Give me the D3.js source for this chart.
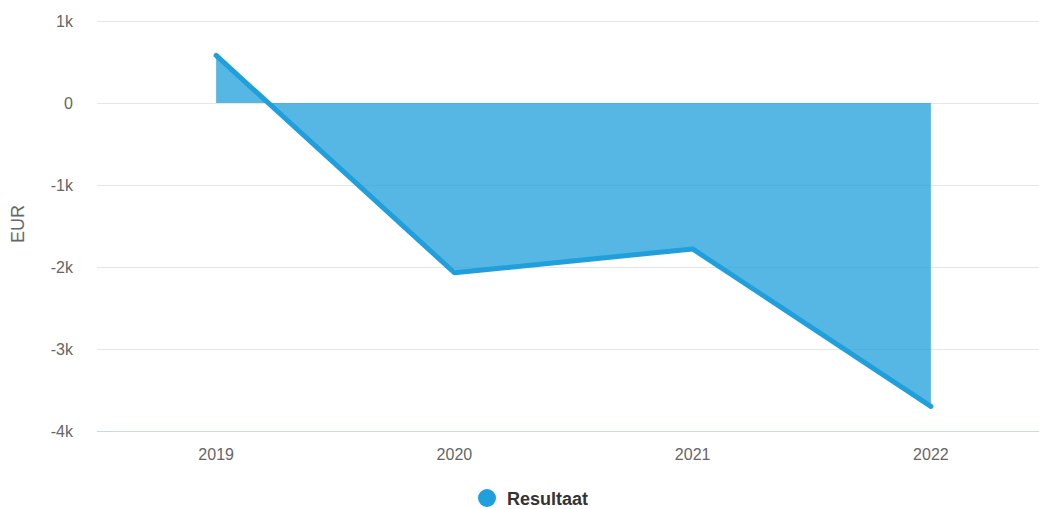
<!DOCTYPE html>
<html>
<head>
<meta charset="utf-8">
<script src="https://cdn.jsdelivr.net/npm/d3@7"></script>
<style>
  body { margin: 0; background: #fff; }
  text { font-family: "Liberation Sans", Arial, Helvetica, sans-serif; }
</style>
</head>
<body>
<svg id="chart"></svg>
<script>
const years = ['2019', '2020', '2021', '2022']
const resultaat = [580, -2070, -1780, -3700]
const yTicks = [1000, 0, -1000, -2000, -3000, -4000]
const yTickLabels = ['1k', '0', '-1k', '-2k', '-3k', '-4k']
const seriesName = 'Resultaat'
const yTitle = 'EUR'

const width = 1039
const height = 509
const margin = { left: 97, top: 21, right: -11, bottom: 78 }
const lineColor = '#1f9fdb'

const svg = d3.select('#chart').attr('width', width).attr('height', height)

const data = years.map((y, i) => ({ year: y, value: resultaat[i] }))

// SCALES
const x = d3.scalePoint()
  .domain(years)
  .range([margin.left, width - margin.right])
  .padding(0.5)
const y = d3.scaleLinear()
  .domain([-4000, 1000])
  .range([height - margin.bottom, margin.top])

// GRID
svg.append('g')
  .selectAll('line')
  .data(yTicks.filter(t => t !== -4000))
  .join('line')
  .attr('x1', margin.left)
  .attr('x2', width)
  .attr('y1', d => y(d) + 0.5)
  .attr('y2', d => y(d) + 0.5)
  .attr('stroke', '#e6e6e6')
  .attr('stroke-width', 1)

// X axis line
svg.append('line')
  .attr('x1', margin.left)
  .attr('x2', width)
  .attr('y1', y(-4000) + 0.5)
  .attr('y2', y(-4000) + 0.5)
  .attr('stroke', '#ccd6eb')
  .attr('stroke-width', 1)

// Y LABELS
svg.append('g')
  .selectAll('text')
  .data(yTicks)
  .join('text')
  .attr('x', 73)
  .attr('y', d => y(d) + 6)
  .attr('text-anchor', 'end')
  .attr('font-size', 16)
  .attr('fill', '#666')
  .text((d, i) => yTickLabels[i])

svg.append('text')
  .attr('transform', `translate(24,224) rotate(-90)`)
  .attr('text-anchor', 'middle')
  .attr('font-size', 18)
  .attr('fill', '#666')
  .text(yTitle)

// X LABELS
svg.append('g')
  .selectAll('text')
  .data(years)
  .join('text')
  .attr('x', d => x(d))
  .attr('y', 460)
  .attr('text-anchor', 'middle')
  .attr('font-size', 16)
  .attr('fill', '#666')
  .text(d => d)

// AREA
const area = d3.area()
  .x(d => x(d.year))
  .y0(y(0))
  .y1(d => y(d.value))
svg.append('path')
  .datum(data)
  .attr('d', area)
  .attr('fill', lineColor)
  .attr('fill-opacity', 0.75)

// LINE
const line = d3.line()
  .x(d => x(d.year))
  .y(d => y(d.value))
svg.append('path')
  .datum(data)
  .attr('d', line)
  .attr('fill', 'none')
  .attr('stroke', lineColor)
  .attr('stroke-width', 5)
  .attr('stroke-linecap', 'round')
  .attr('stroke-linejoin', 'round')

// LEGEND
const legend = svg.append('g').attr('transform', 'translate(487,498)')
legend.append('circle')
  .attr('r', 9)
  .attr('fill', lineColor)
legend.append('text')
  .attr('x', 20)
  .attr('y', 7)
  .attr('font-size', 18)
  .attr('font-weight', 'bold')
  .attr('fill', '#333')
  .text(seriesName)
</script>
</body>
</html>
